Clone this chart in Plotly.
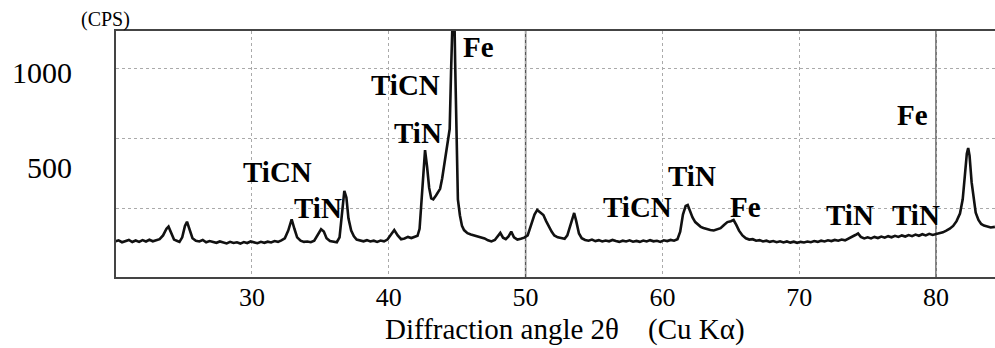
import plotly.graph_objects as go

# ---- data (2theta in degrees, intensity in CPS) ----
two_theta = [
    20.0, 20.25, 20.5, 20.75, 21.0, 21.25, 21.5, 21.75, 22.0, 22.25, 22.5, 22.75, 23.0, 23.25,
    23.5, 23.75, 23.9, 24.1, 24.3, 24.5, 24.7, 24.9, 25.1, 25.25, 25.45, 25.65, 25.9, 26.15,
    26.4, 26.65, 26.9, 27.15, 27.4, 27.65, 27.9, 28.15, 28.4, 28.65, 28.9, 29.15, 29.4, 29.65,
    29.9, 30.15, 30.4, 30.65, 30.9, 31.15, 31.4, 31.65, 31.9, 32.15, 32.4, 32.65, 32.9, 33.1,
    33.3, 33.55, 33.8, 34.05, 34.3, 34.55, 34.8, 35.05, 35.25, 35.45, 35.7, 35.95, 36.2, 36.4,
    36.6, 36.75, 36.9, 37.05, 37.25, 37.45, 37.65, 37.9, 38.15, 38.4, 38.65, 38.9, 39.15, 39.4,
    39.65, 39.9, 40.15, 40.4, 40.65, 40.9, 41.15, 41.4, 41.65, 41.9, 42.1, 42.25, 42.4, 42.5,
    42.65, 42.8, 42.95, 43.1, 43.25, 43.45, 43.6, 43.75, 43.9, 44.1, 44.3, 44.45, 44.55, 44.65,
    44.75, 44.85, 44.95, 45.05, 45.2, 45.35, 45.5, 45.75, 46.0, 46.25, 46.5, 46.75, 47.0, 47.25,
    47.5, 47.75, 48.0, 48.15, 48.35, 48.55, 48.75, 48.95, 49.15, 49.4, 49.65, 49.9, 50.15, 50.4,
    50.65, 50.85, 51.05, 51.3, 51.5, 51.7, 51.9, 52.1, 52.35, 52.6, 52.85, 53.05, 53.3, 53.55,
    53.7, 53.9, 54.1, 54.35, 54.6, 54.85, 55.1, 55.35, 55.6, 55.85, 56.1, 56.35, 56.6, 56.85,
    57.1, 57.35, 57.6, 57.85, 58.1, 58.35, 58.6, 58.85, 59.1, 59.35, 59.6, 59.85, 60.1, 60.35,
    60.6, 60.85, 61.1, 61.3, 61.5, 61.7, 61.85, 62.0, 62.2, 62.4, 62.6, 62.8, 63.0, 63.25,
    63.5, 63.75, 64.0, 64.25, 64.5, 64.75, 65.0, 65.2, 65.4, 65.6, 65.85, 66.1, 66.35, 66.6,
    66.85, 67.1, 67.35, 67.6, 67.85, 68.1, 68.35, 68.6, 68.85, 69.1, 69.35, 69.6, 69.85, 70.1,
    70.35, 70.6, 70.85, 71.1, 71.35, 71.6, 71.85, 72.1, 72.35, 72.6, 72.85, 73.1, 73.35, 73.6,
    73.85, 74.1, 74.3, 74.5, 74.75, 75.0, 75.25, 75.5, 75.75, 76.0, 76.25, 76.5, 76.75, 77.0,
    77.25, 77.5, 77.75, 78.0, 78.25, 78.5, 78.75, 79.0, 79.25, 79.5, 79.75, 80.0, 80.25, 80.5,
    80.75, 81.0, 81.25, 81.5, 81.75, 81.95, 82.1, 82.25, 82.35, 82.45, 82.6, 82.75, 82.9, 83.1,
    83.3, 83.5, 83.75, 84.0, 84.3,
]
cps = [
    108, 114, 104, 112, 116, 105, 113, 106, 115, 108, 117, 109, 114, 120,
    140, 175, 186, 150, 118, 112, 106, 130, 190, 212, 165, 125, 112, 108,
    116, 104, 110, 106, 101, 108, 103, 98, 106, 100, 104, 97, 105, 100,
    108, 102, 99, 106, 101, 107, 103, 110, 106, 114, 125, 165, 225, 175,
    130, 112, 106, 108, 104, 112, 140, 172, 160, 125, 110, 106, 104, 130,
    260, 374, 340, 230, 165, 135, 118, 112, 109, 115, 108, 112, 106, 113,
    109, 118, 145, 168, 140, 120, 124, 132, 126, 134, 138, 175, 330, 480,
    589, 500, 390, 335, 330, 350, 365, 385, 440, 545, 640, 700, 1000, 1500,
    1500, 1050, 620, 330, 245, 190, 168, 152, 145, 140, 134, 128, 124, 114,
    108, 116, 138, 153, 128, 120, 135, 160, 130, 118, 122, 128, 140, 190,
    250, 274, 262, 247, 215, 185, 160, 140, 130, 126, 122, 140, 200, 258,
    215, 150, 125, 116, 112, 118, 110, 115, 108, 113, 109, 116, 110, 106,
    112, 108, 114, 107, 111, 106, 113, 108, 115, 109, 112, 106, 114, 110,
    116, 112, 120, 160, 250, 295, 300, 270, 235, 210, 195, 185, 179, 172,
    168, 166, 170, 178, 195, 210, 215, 221, 195, 165, 140, 125, 118, 120,
    112, 115, 108, 112, 106, 110, 104, 109, 103, 108, 102, 107, 101, 106,
    103, 108, 104, 110, 106, 112, 108, 114, 110, 116, 112, 118, 114, 122,
    130, 142, 150, 132, 124, 130, 124, 132, 126, 134, 128, 136, 130, 138,
    132, 140, 134, 142, 136, 144, 138, 146, 140, 148, 142, 146, 150, 156,
    165, 175, 190, 215, 255, 330, 450, 570, 600, 560, 420, 326, 260, 221,
    200, 192, 186, 182, 185,
]

x_ticks = [30, 40, 50, 60, 70, 80]
solid_grid_x = [50, 80]
y_ticks = [500, 1000]
y_tick_text = ["500", "1000"]
dotted_grid_y = [279, 650, 1021]

peak_labels = ["TiCN", "TiN", "TiCN", "TiN", "Fe", "TiCN", "TiN", "Fe", "TiN", "TiN", "Fe"]
label_x = [31.83, 34.86, 41.19, 42.10, 46.52, 58.18, 62.13, 66.04, 73.68, 78.50, 78.28]
label_y = [474, 284, 932, 679, 1132, 289, 453, 289, 247, 247, 774]

X_RANGE = [20.06, 84.31]
Y_RANGE = [-79, 1216]
SERIF = "'Liberation Serif', 'Times New Roman', Times, serif"

fig = go.Figure()
fig.add_trace(go.Scatter(
    x=two_theta, y=cps, mode="lines",
    line=dict(color="#111111", width=2.6),
    showlegend=False, hoverinfo="skip",
))

for gx in solid_grid_x:
    fig.add_shape(type="line", xref="x", yref="paper", x0=gx, x1=gx, y0=0, y1=1,
                  line=dict(color="#555555", width=1.5), layer="below")

for txt, lx, ly in zip(peak_labels, label_x, label_y):
    fig.add_annotation(x=lx, y=ly, xref="x", yref="y", text="<b>" + txt + "</b>",
                       showarrow=False, xanchor="center", yanchor="middle",
                       font=dict(family=SERIF, size=29, color="black"))

fig.add_annotation(x=-0.0114, y=1.045, xref="paper", yref="paper", text="(CPS)",
                   showarrow=False, xanchor="center", yanchor="middle",
                   font=dict(family=SERIF, size=20, color="black"))
fig.add_annotation(x=0.511, y=-0.215, xref="paper", yref="paper",
                   text="Diffraction angle 2\u03b8\u00a0\u00a0\u00a0\u00a0(Cu K\u03b1)",
                   showarrow=False, xanchor="center", yanchor="middle",
                   font=dict(family=SERIF, size=29, color="black"))

fig.update_layout(
    width=995, height=348,
    margin=dict(l=116, r=0, t=31, b=71),
    paper_bgcolor="white", plot_bgcolor="white",
    xaxis=dict(
        range=X_RANGE, tickmode="array", tickvals=x_ticks,
        ticks="", showgrid=True, gridcolor="#aaaaaa", griddash="dot", gridwidth=1,
        showline=True, linecolor="#444444", linewidth=2, mirror=True,
        zeroline=False, tickfont=dict(family=SERIF, size=26, color="black"),
        ticklabelstandoff=-4,
    ),
    yaxis=dict(
        range=Y_RANGE, tickmode="array", tickvals=y_ticks, ticktext=y_tick_text,
        ticks="", showgrid=False, zeroline=False,
        showline=True, linecolor="#444444", linewidth=2,
        tickfont=dict(family=SERIF, size=30, color="black"),
        ticklabelstandoff=36,
        minor=dict(tickmode="array", tickvals=dotted_grid_y, showgrid=True,
                   gridcolor="#aaaaaa", griddash="dot", gridwidth=1, ticks=""),
    ),
)

fig.write_html("out.html")
